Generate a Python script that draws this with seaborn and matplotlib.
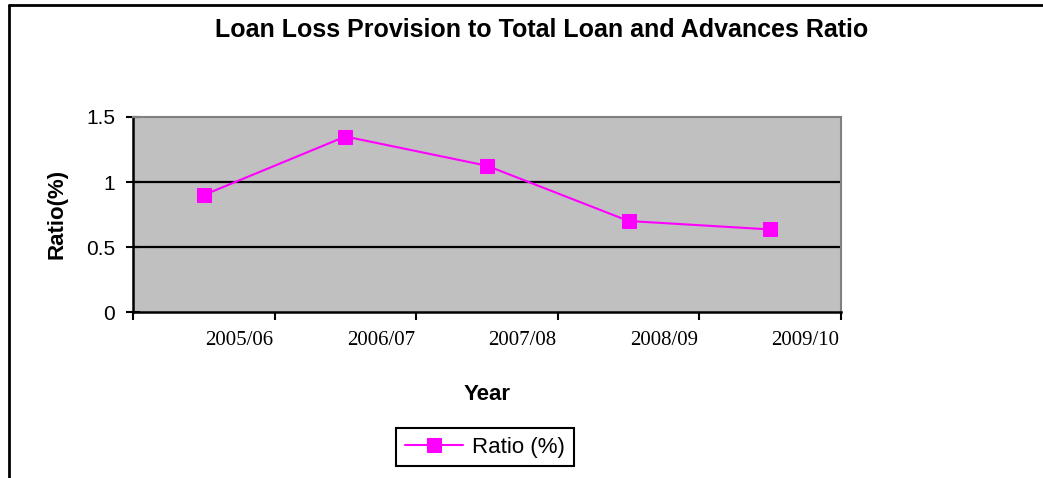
import matplotlib
matplotlib.use('agg')
import matplotlib.pyplot as plt
from matplotlib.lines import Line2D
import seaborn as sns
import pandas as pd
import numpy as np

# data
years = ['2005/06', '2006/07', '2007/08', '2008/09', '2009/10']
ratio = [0.90, 1.35, 1.125, 0.70, 0.635]
series_name = 'Ratio (%)'

MAGENTA = '#FF00FF'
PLOT_GRAY = '#C0C0C0'

W, H = 1043, 478

sns.set_style('white')
plt.rcParams['font.family'] = ['Liberation Sans', 'DejaVu Sans']
plt.rcParams['text.color'] = 'black'
plt.rcParams['xtick.color'] = 'black'
plt.rcParams['ytick.color'] = 'black'

df = pd.DataFrame({'pos': np.arange(len(years)), 'ratio': ratio})

fig = plt.figure(figsize=(W / 100, H / 100), dpi=100)
ax = fig.add_axes([133 / W, 1 - 312 / H, (841 - 133) / W, (312 - 117) / H])
ax.set_facecolor(PLOT_GRAY)

sns.lineplot(data=df, x='pos', y='ratio', ax=ax, color=MAGENTA, linewidth=1.5,
             marker='s', markersize=10, markeredgecolor=MAGENTA, label=series_name,
             legend=False, zorder=3)

ax.set_xlim(-0.5, len(years) - 0.5)
ax.set_ylim(0, 1.5)
ax.set_yticks([0, 0.5, 1, 1.5])
ax.set_yticklabels(['0', '0.5', '1', '1.5'])

# black gridlines at 0.5 and 1
for v in [0.5, 1.0]:
    ax.axhline(v, color='black', lw=1.6, zorder=1)

# boundary ticks without labels, labels shifted like the original
ax.set_xticks(np.arange(-0.5, len(years), 1.0))
ax.set_xticklabels([])
ax.set_xticks(np.arange(len(years)) + 0.25, minor=True)
ax.set_xticklabels(years, minor=True, fontfamily='Liberation Serif', fontsize=15)
ax.tick_params(axis='x', which='major', bottom=True, direction='out', length=6,
               width=1.5, color='black')
ax.tick_params(axis='x', which='minor', bottom=True, length=0, pad=14)
ax.tick_params(axis='y', left=True, direction='inout', length=10, width=1.5,
               color='black', labelsize=15, pad=8)

for s in ['left', 'bottom']:
    ax.spines[s].set_color('black')
    ax.spines[s].set_linewidth(1.8)
for s in ['top', 'right']:
    ax.spines[s].set_color('#808080')
    ax.spines[s].set_linewidth(1.5)

ax.set_xlabel('')
ax.set_ylabel('')

fig.text(542 / W, 1 - 30 / H, 'Loan Loss Provision to Total Loan and Advances Ratio',
         ha='center', va='center', fontsize=18, fontweight='bold')
fig.text(57 / W, 1 - 214 / H, 'Ratio(%)', rotation=90, ha='center', va='center',
         fontsize=16, fontweight='bold')
fig.text(487 / W, 1 - 395 / H, 'Year', ha='center', va='center',
         fontsize=16, fontweight='bold')

handles, labels = ax.get_legend_handles_labels()
leg = fig.legend(handles, labels, loc='center', bbox_to_anchor=(485 / W, 1 - 447 / H),
                 fontsize=16, frameon=True, fancybox=False, framealpha=1,
                 edgecolor='black', handlelength=2.6, handletextpad=0.4,
                 borderpad=0.4)
leg.get_frame().set_linewidth(1.5)

# outer chart frame (top and left edges visible)
fig.add_artist(Line2D([9 / W, 1], [1 - 5 / H, 1 - 5 / H], transform=fig.transFigure,
                      color='black', lw=2))
fig.add_artist(Line2D([9 / W, 9 / W], [0, 1 - 5 / H], transform=fig.transFigure,
                      color='black', lw=2))

fig.savefig('out.png', dpi=100)
